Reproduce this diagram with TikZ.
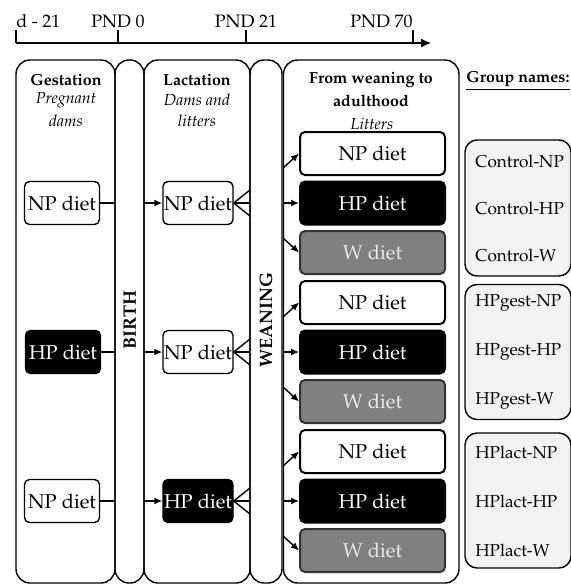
\documentclass[tikz,border=0pt]{standalone}
\usepackage[T1]{fontenc}
\usepackage{mathpazo}
\usetikzlibrary{arrows.meta,calc}

\definecolor{wGray}{RGB}{128,128,128}
\definecolor{wText}{RGB}{232,232,232}
\definecolor{groupFill}{RGB}{242,242,242}

\tikzset{
  colBox/.style={draw, line width=0.7pt, rounded corners=7pt},
  dietBox/.style={draw, line width=0.7pt, rounded corners=2.5pt, inner sep=0pt,
    minimum width=37.5pt, minimum height=21.5pt},
  lactBox/.style={dietBox, minimum width=35pt},
  litBox/.style={draw, line width=1pt, rounded corners=2.5pt, inner sep=0pt,
    minimum width=72.5pt, minimum height=21.5pt},
  hpBox/.style={fill=black, text=white},
  wBox/.style={fill=wGray, draw=black!80, text=wText},
  groupBox/.style={draw, line width=0.7pt, rounded corners=6pt, fill=groupFill,
    minimum width=53pt},
  connLine/.style={line width=0.7pt},
  connArrow/.style={line width=0.7pt, -{Latex[length=4pt,width=3.5pt]}},
  headBold/.style={font=\footnotesize\bfseries},
  headItal/.style={font=\footnotesize\itshape},
  groupLab/.style={anchor=west, font=\fontsize{8.6}{10}\selectfont, inner sep=0pt}
}

\begin{document}
\begin{tikzpicture}[x=0.5pt,y=-0.5pt]
  \useasboundingbox (0,0) rectangle (571,585);
  % Timeline
  \coordinate (tStart) at (16,43);
  \coordinate (tEnd) at (431,43);
  \draw[line width=0.7pt, -{Latex[length=5pt,width=4.5pt]}] (tStart) -- (tEnd);
  \foreach \x/\lab/\anc in {16/d - 21/base west, 118/PND 0/base, 246/PND 21/base, 413/PND 70/base east} {
    \draw[line width=0.7pt] (\x,30) -- (\x,43);
    \node[anchor=\anc, font=\small, inner sep=0pt] at (\x,27) {\lab};
  }
  % Columns
  \draw[colBox] (16,60) rectangle (115,583);
  \draw[colBox] (115,60) rectangle (144,583);
  \draw[colBox] (144,60) rectangle (250,583);
  \draw[colBox] (250,60) rectangle (282,583);
  \draw[colBox] (283.5,60) rectangle (459,583);
  \coordinate (birthL) at (115,0);
  \coordinate (birthR) at (144,0);
  \coordinate (weanL) at (250,0);
  \coordinate (weanR) at (283,0);
  % Headers
  \node[headBold] (gestHead) at (66,80) {Gestation};
  \node[headItal] at (66,100) {Pregnant};
  \node[headItal] at (66,121) {dams};
  \node[headBold] (lactHead) at (197,80) {Lactation};
  \node[headItal] at (197,100) {Dams and};
  \node[headItal] at (197,121) {litters};
  \node[headBold] (litHead) at (371,80) {From weaning to};
  \node[headBold] at (371,101) {adulthood};
  \node[headItal] at (372,124) {Litters};
  \node[headBold] (groupHead) at (518,81) {\underline{Group names:}};
  \node[rotate=90, font=\small\bfseries] (birthLab) at (130,320) {BIRTH};
  \node[rotate=90, font=\small\bfseries] (weanLab) at (266,320) {WEANING};
  % Diets
  \node[dietBox] (gestA) at (62,203) {NP diet};
  \node[dietBox, hpBox] (gestB) at (63,352) {HP diet};
  \node[dietBox] (gestC) at (62,501) {NP diet};
  \node[lactBox] (lactA) at (198,203) {NP diet};
  \node[lactBox] (lactB) at (198,352) {NP diet};
  \node[lactBox, hpBox] (lactC) at (198,501) {HP diet};
  \foreach \g/\y in {A/203,B/352,C/501} {
    \node[litBox] (lit\g NP) at (372.5,\y-49.5) {NP diet};
    \node[litBox, hpBox] (lit\g HP) at (372.5,\y) {HP diet};
    \node[litBox, wBox] (lit\g W) at (372.5,\y+49.5) {W diet};
  }
  % Connectors
  \foreach \g in {A,B,C} {
    \draw[connLine] (gest\g.east) -- (gest\g.east -| birthL);
    \draw[connArrow] (lact\g.west -| birthR) -- (lact\g.west);
    \draw[connLine] (lact\g.east) -- ($(lact\g.east -| weanL)+(0,-13)$);
    \draw[connLine] (lact\g.east) -- (lact\g.east -| weanL);
    \draw[connLine] (lact\g.east) -- ($(lact\g.east -| weanL)+(0,13)$);
    \draw[connArrow] ($(lit\g HP.west -| weanR)+(0,-35)$) -- (lit\g NP.west);
    \draw[connArrow] (lit\g HP.west -| weanR) -- (lit\g HP.west);
    \draw[connArrow] ($(lit\g HP.west -| weanR)+(0,35)$) -- (lit\g W.west);
  }
  % Groups
  \node[groupBox, minimum height=68pt] (grpCtrl) at (518,208) {};
  \node[groupBox, minimum height=67.5pt] (grpGest) at (518,352) {};
  \node[groupBox, minimum height=67.5pt] (grpLact) at (518,500.5) {};
  \foreach \y/\lab in {161/Control-NP, 208/Control-HP, 255/Control-W,
      303/HPgest-NP, 352/HPgest-HP, 401/HPgest-W,
      452/HPlact-NP, 501/HPlact-HP, 550/HPlact-W} {
    \node[groupLab] at (475,\y) {\lab};
  }
\end{tikzpicture}
\end{document}
